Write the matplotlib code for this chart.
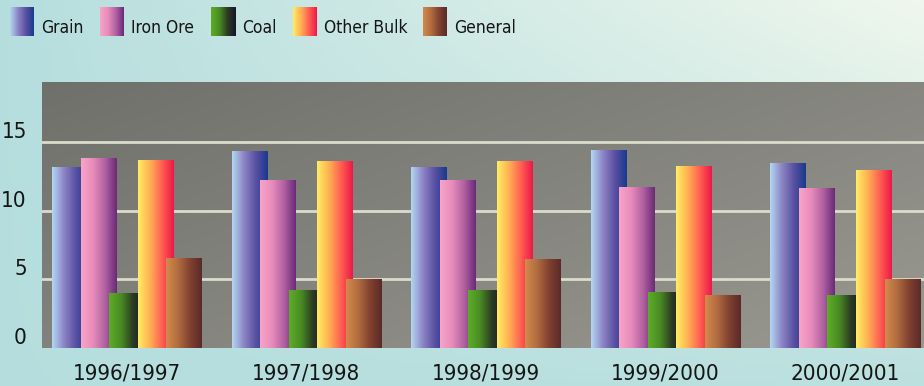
import numpy as np
import matplotlib
matplotlib.use("Agg")
import matplotlib.pyplot as plt
from matplotlib.colors import LinearSegmentedColormap

plt.rcParams['font.family'] = ['DejaVu Sans']
plt.rcParams['font.stretch'] = 'condensed'

# cargo tonnage by season (millions of tonnes)
seasons = ['1996/1997', '1997/1998', '1998/1999', '1999/2000', '2000/2001']
cargo = ['Grain', 'Iron Ore', 'Coal', 'Other Bulk', 'General']
grain = [13.1, 14.3, 13.1, 14.35, 13.4]
iron_ore = [13.8, 12.2, 12.2, 11.7, 11.6]
coal = [4.0, 4.2, 4.15, 4.05, 3.85]
other_bulk = [13.65, 13.6, 13.6, 13.2, 12.9]
general = [6.5, 4.95, 6.45, 3.8, 4.95]
yticks = [0, 5, 10, 15]

series = [grain, iron_ore, coal, other_bulk, general]
ramps = [
    ['#b2d6f2', '#8c84c4', '#5a50a2', '#183a8e'],
    ['#f8a4c8', '#e88cba', '#b262a2', '#6a2a78'],
    ['#5cac28', '#4a8c24', '#2c3c22', '#16162a'],
    ['#ffec62', '#ffb052', '#ff6052', '#ee1848'],
    ['#d28a4a', '#b26c40', '#824230', '#5a2a28'],
]
cmaps = [LinearSegmentedColormap.from_list(n, c) for n, c in zip(cargo, ramps)]
hgrad = np.linspace(0, 1, 64).reshape(1, -1)

W, H = 924, 386
fig = plt.figure(figsize=(W / 100, H / 100), dpi=100)

# page background: pale cyan fading to near white at the top right
bg = fig.add_axes([0, 0, 1, 1])
gx, gy = np.meshgrid(np.linspace(0, 1, 200), np.linspace(0, 1, 100))
t = np.clip(0.9 * gx * (1 - gy) + 0.1 * gx, 0, 1)
c0 = np.array([0.71, 0.87, 0.87])
c1 = np.array([0.94, 0.97, 0.93])
img = c0[None, None, :] * (1 - t[..., None]) + c1[None, None, :] * t[..., None]
bg.imshow(img, aspect='auto', extent=(0, 1, 0, 1))
bg.axis('off')

ax = fig.add_axes([42 / W, 1 - 348 / H, 1 - 42 / W, (348 - 82) / H])
xlim = (-0.471, 4.44)
ylim = (0, 19.35)

# grey panel, darker toward the top left
px, py = np.meshgrid(np.linspace(0, 1, 200), np.linspace(0, 1, 100))
s = np.clip(0.55 * px + 0.45 * py, 0, 1)
g0 = np.array([0.44, 0.44, 0.42])
g1 = np.array([0.60, 0.60, 0.57])
panel = g0[None, None, :] * (1 - s[..., None]) + g1[None, None, :] * s[..., None]
ax.imshow(panel, aspect='auto', extent=(xlim[0], xlim[1], ylim[0], ylim[1]), zorder=0)

for v in yticks[1:]:
    ax.axhline(v, color='#dcdccc', lw=2, zorder=1)

width = 0.195
step = 0.159
x = np.arange(len(seasons))
for k, (vals, cm) in enumerate(zip(series, cmaps)):
    for i, v in enumerate(vals):
        x0 = x[i] + (k - 2) * step - width / 2
        ax.imshow(hgrad, cmap=cm, aspect='auto', extent=(x0, x0 + width, 0, v),
                  interpolation='bilinear', zorder=2 + k)

ax.set_xlim(*xlim)
ax.set_ylim(*ylim)
ax.set_xticks(x)
ax.set_xticklabels(seasons, fontsize=16, color='#151515')
ax.set_yticks(yticks)
ax.set_yticklabels([str(v) for v in yticks], fontsize=16, color='#151515', va='bottom')
ax.tick_params(axis='x', length=0, pad=11)
ax.tick_params(axis='y', length=0, pad=11)
for sp in ax.spines.values():
    sp.set_visible(False)

# legend row along the top
leg_x = [10, 100, 211, 293, 423]
for name, cm, lx in zip(cargo, cmaps, leg_x):
    sw = fig.add_axes([lx / W, 1 - 36 / H, 24 / W, 29 / H])
    sw.imshow(hgrad, cmap=cm, aspect='auto', interpolation='bilinear')
    sw.axis('off')
    fig.text((lx + 31) / W, 1 - 28 / H, name, fontsize=12.5, color='#151515',
             va='center', ha='left')

fig.savefig('out.png', dpi=100)
